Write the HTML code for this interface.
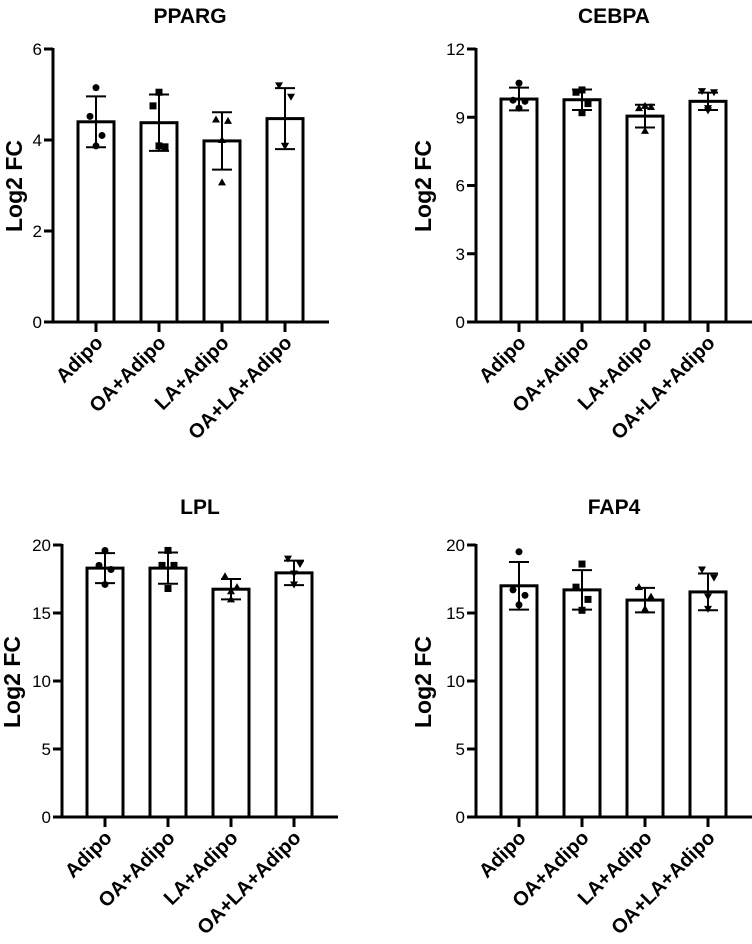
<!DOCTYPE html>
<html><head><meta charset="utf-8"><style>
html,body{margin:0;padding:0;background:#fff;}
svg{display:block;font-family:"Liberation Sans",Arial,sans-serif;}
</style></head><body>
<svg id="fig" width="752" height="944" viewBox="0 0 752 944" xmlns="http://www.w3.org/2000/svg"></svg>
<script>
const categories = ["Adipo","OA+Adipo","LA+Adipo","OA+LA+Adipo"];
const ppargMeans = [4.4, 4.38, 3.98, 4.47];
const ppargSD = [0.56, 0.62, 0.63, 0.67];
const ppargPoints = [[5.15,4.52,4.1,3.87],[5.05,4.75,3.85,3.87],[4.45,4.42,4.0,3.07],[5.2,4.95,3.87,3.87]];
const ppargTicks = [0,2,4,6];
const cebpaMeans = [9.8, 9.77, 9.05, 9.7];
const cebpaSD = [0.5, 0.45, 0.5, 0.38];
const cebpaPoints = [[10.5,9.75,9.7,9.4],[10.2,10.1,9.6,9.2],[9.4,9.45,9.5,8.4],[10.15,10.1,9.4,9.3]];
const cebpaTicks = [0,3,6,9,12];
const lplMeans = [18.3, 18.3, 16.75, 17.95];
const lplSD = [1.1, 1.15, 0.75, 0.9];
const lplPoints = [[19.6,18.5,18.2,17.1],[19.6,18.5,18.5,16.8],[17.7,16.9,16.6,16.0],[19.0,18.6,17.9,17.1]];
const lplTicks = [0,5,10,15,20];
const fap4Means = [17.0, 16.7, 15.95, 16.55];
const fap4SD = [1.75, 1.45, 0.9, 1.35];
const fap4Points = [[19.5,16.7,16.3,15.6],[18.6,16.9,16.0,15.2],[16.9,16.2,15.2,15.3],[18.2,17.6,16.2,15.3]];
const fap4Ticks = [0,5,10,15,20];

const NS="http://www.w3.org/2000/svg";
const svg=document.getElementById('fig');
function mk(tag,attrs,parent){const e=document.createElementNS(NS,tag);for(const k in attrs)e.setAttribute(k,attrs[k]);(parent||svg).appendChild(e);return e;}

const panels=[
 {name:"pparg",title:"PPARG",means:ppargMeans,sd:ppargSD,pts:ppargPoints,ticks:ppargTicks,ax:53,y0:322,yTop:49,tx:190,ty:23,ytx:14,yty:186},
 {name:"cebpa",title:"CEBPA",means:cebpaMeans,sd:cebpaSD,pts:cebpaPoints,ticks:cebpaTicks,ax:476,y0:322,yTop:49,tx:614,ty:23,ytx:423,yty:186},
 {name:"lpl",title:"LPL",means:lplMeans,sd:lplSD,pts:lplPoints,ticks:lplTicks,ax:62,y0:817,yTop:545,tx:200,ty:514,ytx:12,yty:682},
 {name:"fap4",title:"FAP4",means:fap4Means,sd:fap4SD,pts:fap4Points,ticks:fap4Ticks,ax:476,y0:817,yTop:545,tx:614,ty:514,ytx:423,yty:682}
];
const offsets=[[0,-6,6,0],[0,-6,6,0],[-6,6,0,0],[-6,6,0,0]];

panels.forEach(p=>{
 const g=mk('g',{});
 
 
 const maxV=p.ticks[p.ticks.length-1];
 const y=v=>p.y0-(v/maxV)*(p.y0-p.yTop);
 const x=i=>p.ax+43+i*63;
 const t=mk('text',{x:p.tx,y:p.ty,'text-anchor':'middle','font-size':21,'font-weight':'bold'},g);
 t.textContent=p.title;
 
 
 const yt=mk('text',{x:0,y:0,transform:`translate(${p.ytx+8},${p.yty}) rotate(-90)`,'text-anchor':'middle','font-size':23,'font-weight':'bold'},g);
 yt.textContent="Log2 FC";
 
 
 p.means.forEach((m,i)=>{
  const b=mk('rect',{x:x(i)-18,y:y(m),width:36,height:p.y0-y(m),fill:'#fff',stroke:'#000','stroke-width':3},g);
  
  
 });
 p.means.forEach((m,i)=>{
  const e=mk('g',{stroke:'#000','stroke-width':2},g);
  
  
  mk('line',{x1:x(i),x2:x(i),y1:y(m+p.sd[i]),y2:y(m-p.sd[i])},e);
  mk('line',{x1:x(i)-10,x2:x(i)+10,y1:y(m+p.sd[i]),y2:y(m+p.sd[i])},e);
  mk('line',{x1:x(i)-10,x2:x(i)+10,y1:y(m-p.sd[i]),y2:y(m-p.sd[i])},e);
 });
 p.pts.forEach((arr,i)=>{
  arr.forEach((v,j)=>{
   const cx=x(i)+offsets[i][j], cy=y(v);
   let el;
   if(i===0) el=mk('circle',{cx:cx,cy:cy,r:3.5,fill:'#000'},g);
   else if(i===1) el=mk('rect',{x:cx-3.5,y:cy-3.5,width:7,height:7,fill:'#000'},g);
   else if(i===2) el=mk('polygon',{points:`${cx},${cy-4} ${cx-4},${cy+3} ${cx+4},${cy+3}`,fill:'#000'},g);
   else el=mk('polygon',{points:`${cx},${cy+4} ${cx-4},${cy-3} ${cx+4},${cy-3}`,fill:'#000'},g);
   
   
  });
 });
 const axes=mk('g',{stroke:'#000','stroke-width':3},g);
 
 
 mk('line',{x1:p.ax,x2:p.ax,y1:p.yTop-1,y2:p.y0+1.5},axes);
 mk('line',{x1:p.ax-1.5,x2:p.ax+276,y1:p.y0,y2:p.y0},axes);
 p.ticks.forEach(tv=>{
  mk('line',{x1:p.ax-9,x2:p.ax,y1:y(tv),y2:y(tv)},axes);
  const tl=mk('text',{x:p.ax-11,y:y(tv)+6,'text-anchor':'end','font-size':17},g);
  tl.textContent=tv;
  
  
 });
 categories.forEach((c,i)=>{
  mk('line',{x1:x(i),x2:x(i),y1:p.y0,y2:p.y0+10},axes);
  const xl=mk('text',{x:0,y:0,transform:`translate(${x(i)+8},${p.y0+22}) rotate(-45)`,'text-anchor':'end','font-size':20,'font-weight':'bold'},g);
  xl.textContent=c;
  
  
 });
});
</script>
</body></html>
